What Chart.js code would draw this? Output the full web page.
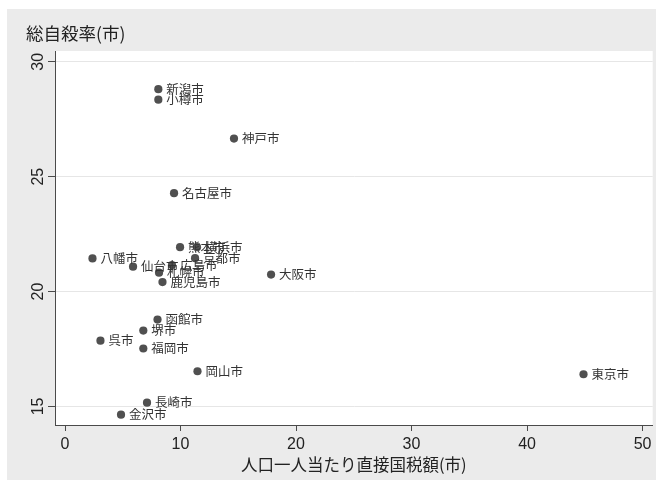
<!DOCTYPE html>
<html>
<head>
<meta charset="utf-8">
<script src="https://cdn.jsdelivr.net/npm/chart.js@4/dist/chart.umd.min.js"></script>
<style>
  html, body { margin: 0; padding: 0; background: #ffffff; }
  canvas { display: block; }
</style>
</head>
<body>
<canvas id="c" width="663" height="487"></canvas>
<script>
// City names, per-capita direct national tax and total suicide rate
const cities = ['新潟市','小樽市','神戸市','名古屋市','熊本市','横浜市','京都市','八幡市','仙台市','広島市','札幌市','大阪市','鹿児島市','函館市','堺市','呉市','福岡市','岡山市','東京市','長崎市','金沢市'];
const taxPerCapita = [8.08, 8.08, 14.63, 9.44, 9.96, 11.43, 11.26, 2.38, 5.89, 9.26, 8.14, 17.84, 8.44, 8.01, 6.78, 3.07, 6.78, 11.47, 44.89, 7.10, 4.85];
const suicideRate  = [28.81, 28.35, 26.66, 24.28, 21.93, 21.93, 21.45, 21.44, 21.08, 21.15, 20.82, 20.74, 20.41, 18.78, 18.30, 17.86, 17.52, 16.53, 16.40, 15.16, 14.64];

const xTicks = [0, 10, 20, 30, 40, 50];
const yTicks = [15, 20, 25, 30];

const xTitle = '人口一人当たり直接国税額(市)';
const yTitle = '総自殺率(市)';

const points = taxPerCapita.map((v, i) => ({ x: v, y: suicideRate[i] }));

const CJK = '"Noto Sans CJK JP", "Noto Sans", sans-serif';
const NUM = '"Liberation Sans", Arial, sans-serif';
const AXIS = '#4a4a4a';

// Background panels: outer gray graph region and white plot region
const backdrop = {
  id: 'backdrop',
  beforeDraw(chart) {
    const { ctx, chartArea: a } = chart;
    ctx.save();
    ctx.fillStyle = '#ffffff';
    ctx.fillRect(0, 0, chart.width, chart.height);
    ctx.fillStyle = '#ebebeb';
    ctx.fillRect(7, 9, 649, 471);
    ctx.fillStyle = '#ffffff';
    ctx.fillRect(a.left, a.top, a.right - a.left, a.bottom - a.top);
    ctx.restore();
  }
};

// Marker labels to the right of each point
const markerLabels = {
  id: 'markerLabels',
  afterDatasetsDraw(chart) {
    const { ctx } = chart;
    const meta = chart.getDatasetMeta(0);
    ctx.save();
    ctx.font = '12.5px ' + CJK;
    ctx.fillStyle = '#333333';
    ctx.textAlign = 'left';
    ctx.textBaseline = 'middle';
    meta.data.forEach((el, i) => {
      ctx.fillText(cities[i], el.x + 8, el.y);
    });
    ctx.restore();
  }
};

new Chart(document.getElementById('c'), {
  type: 'scatter',
  data: {
    datasets: [{
      data: points,
      pointRadius: 4.1,
      pointHoverRadius: 4.1,
      pointBackgroundColor: '#505050',
      pointBorderWidth: 0
    }]
  },
  options: {
    responsive: false,
    animation: false,
    devicePixelRatio: 1,
    events: [],
    layout: { padding: { left: 26, right: 10.3, top: 22.8, bottom: 0 } },
    plugins: {
      legend: { display: false },
      tooltip: { enabled: false },
      title: {
        display: true,
        text: yTitle,
        align: 'start',
        color: '#222222',
        font: { family: CJK, size: 17.5, weight: 'normal' },
        padding: { top: 0, bottom: 7.2 }
      }
    },
    scales: {
      x: {
        type: 'linear',
        position: 'bottom',
        min: -0.866,
        max: 50.88,
        afterBuildTicks(scale) { scale.ticks = xTicks.map(v => ({ value: v })); },
        afterFit(scale) { scale.height = 62; },
        ticks: {
          color: '#222222',
          font: { family: NUM, size: 16 },
          padding: 4.4,
          maxRotation: 0,
          autoSkip: false,
          callback: v => String(v)
        },
        grid: { drawOnChartArea: false, drawTicks: true, tickLength: 6, tickColor: AXIS, lineWidth: 1 },
        border: { display: true, color: AXIS, width: 1 },
        title: {
          display: true,
          text: xTitle,
          color: '#222222',
          font: { family: CJK, size: 16.5, weight: 'normal' },
          padding: { top: 0, bottom: 12 }
        }
      },
      y: {
        type: 'linear',
        position: 'left',
        min: 14.19,
        max: 30.47,
        afterBuildTicks(scale) { scale.ticks = yTicks.map(v => ({ value: v })); },
        afterFit(scale) { scale.width = 29; },
        ticks: {
          color: '#222222',
          font: { family: NUM, size: 16 },
          padding: 0.5,
          minRotation: 90,
          maxRotation: 90,
          crossAlign: 'center',
          autoSkip: true,
          callback: v => String(v)
        },
        grid: { drawOnChartArea: true, color: '#e6e6e6', drawTicks: true, tickLength: 7, tickColor: AXIS, lineWidth: 1 },
        border: { display: true, color: AXIS, width: 1 }
      }
    }
  },
  plugins: [backdrop, markerLabels]
});
</script>
</body>
</html>
